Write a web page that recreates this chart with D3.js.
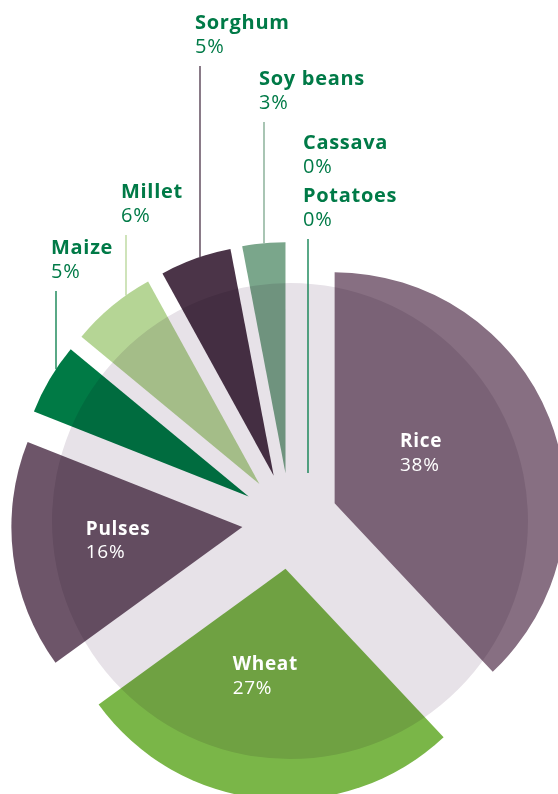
<!DOCTYPE html>
<html>
<head>
<meta charset="utf-8">
<script src="https://cdn.jsdelivr.net/npm/d3@7/dist/d3.min.js"></script>
<style>
  html, body { margin:0; padding:0; background:#fff; }
  svg { display:block; }
  text { font-family:"Open Sans","Noto Sans",sans-serif; }
</style>
</head>
<body>
<svg id="chart" width="558" height="794"></svg>
<script>
// data, clockwise from 12 o'clock
const crops  = ["Rice","Wheat","Pulses","Maize","Millet","Sorghum","Soy beans","Cassava","Potatoes"];
const shares = [38, 27, 16, 5, 6, 5, 3, 0, 0];
const sliceColors = ["#876f82","#7ab648","#6d5569","#007a45","#b5d595","#4b3448","#7aa68b","#007a45","#007a45"];

// where the outside labels sit (left x, baseline of the crop name)
const outsideLabels = [
  { crop:"Sorghum",   x:195, y:29,  line:true },
  { crop:"Soy beans", x:259, y:85,  line:true },
  { crop:"Cassava",   x:303, y:149, line:false },
  { crop:"Potatoes",  x:303, y:202, line:true },
  { crop:"Millet",    x:121, y:198, line:true },
  { crop:"Maize",     x:51,  y:254, line:true }
];
// small vertical nudges for the inside labels
const insideNudge = { Rice:0, Wheat:0, Pulses:7 };

const CX = 290, CY = 521;   // pie centre
const R_BG = 238;           // pale disc behind
const R = 231;              // slice radius
const EXPLODE = 48;         // every slice pulled out by this much
const GREEN = "#007a47";

const svg = d3.select("#chart");
const rows = crops.map((c,i) => ({ crop:c, v:shares[i] }));
const color = d3.scaleOrdinal().domain(crops).range(sliceColors);

const pie = d3.pie().sort(null).value(d => d.v);
const arcs = pie(rows);
const arc = d3.arc().innerRadius(0).outerRadius(R);

function shift(a){
  const m = (a.startAngle + a.endAngle)/2;
  return [EXPLODE*Math.sin(m), -EXPLODE*Math.cos(m)];
}

const g = svg.append("g").attr("transform","translate("+CX+","+CY+")");

g.append("circle").attr("r",R_BG).attr("fill","#e7e2e8");

g.selectAll("path.slice").data(arcs.filter(a => a.data.v > 0)).enter().append("path")
  .attr("class","slice")
  .attr("d",arc)
  .attr("transform",a => "translate("+shift(a)+")")
  .attr("fill",a => color(a.data.crop))
  .style("mix-blend-mode","multiply");

// big slices: white label inside
const inside = arcs.filter(a => a.data.v >= 10);
inside.forEach(a => {
  const c = arc.centroid(a), s = shift(a);
  const x = c[0] + s[0] - 42, y = c[1] + s[1] + (insideNudge[a.data.crop] || 0);
  const t = g.append("text").attr("fill","#fff").attr("font-size",19).attr("letter-spacing",0.7);
  t.append("tspan").attr("x",x).attr("y",y-14).attr("font-weight",700).text(a.data.crop);
  t.append("tspan").attr("x",x).attr("y",y+10).text(a.data.v+"%");
});

// small slices: green label above with a leader line down to the slice
outsideLabels.forEach(L => {
  const a = arcs.find(d => d.data.crop === L.crop);
  const t = svg.append("text").attr("fill",GREEN).attr("font-size",20).attr("letter-spacing",0.7);
  t.append("tspan").attr("x",L.x).attr("y",L.y).attr("font-weight",700).text(L.crop);
  t.append("tspan").attr("x",L.x).attr("y",L.y+24).text(a.data.v+"%");
  if(!L.line) return;
  const s = shift(a);
  const ax = CX + s[0], ay = CY + s[1];
  const lx = L.x + 5;
  let y1 = ay;
  if(a.data.v > 0){
    const dx = lx - ax;
    y1 = ay - Math.sqrt(R*R - dx*dx);
  }
  svg.append("line")
    .attr("x1",lx).attr("x2",lx)
    .attr("y1",L.y + 37).attr("y2",y1)
    .attr("stroke", a.data.v > 0 ? color(a.data.crop) : GREEN)
    .attr("stroke-width",1.3);
});
</script>
</body>
</html>
